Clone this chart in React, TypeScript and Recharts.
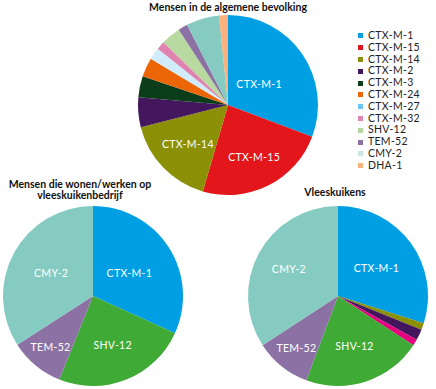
import { PieChart, Pie, Cell } from "recharts";

// categorieën en aandelen (%) per populatie
const legendNames = [
  "CTX-M-1",
  "CTX-M-15",
  "CTX-M-14",
  "CTX-M-2",
  "CTX-M-3",
  "CTX-M-24",
  "CTX-M-27",
  "CTX-M-32",
  "SHV-12",
  "TEM-52",
  "CMY-2",
  "DHA-1",
];
const legendColors = [
  "#009fe3",
  "#e3171b",
  "#8b9006",
  "#43165e",
  "#0b3d1b",
  "#ec6608",
  "#6ec6f0",
  "#e083b0",
  "#b3d79b",
  "#8c72a4",
  "#cbe8e3",
  "#f9b27e",
];

const algemeenNames = legendNames;
const algemeenValues = [30.7, 23.7, 16.5, 5.3, 3.8, 3.4, 2.2, 1.5, 3.5, 1.7, 5.9, 1.6];
const algemeenColors = [
  "#009fe3",
  "#e3171b",
  "#8b9006",
  "#43165e",
  "#0b3d1b",
  "#ec6608",
  "#d2ebfa",
  "#e083b0",
  "#b8d99f",
  "#8c72a4",
  "#86cbc2",
  "#f9b27e",
];

const bedrijfNames = ["CTX-M-1", "SHV-12", "TEM-52", "CMY-2"];
const bedrijfValues = [31.8, 24.3, 9.8, 34.1];
const bedrijfColors = ["#009fe3", "#3faa35", "#8c72a4", "#86cbc2"];

const kuikenNames = ["CTX-M-1", "CTX-M-14", "CTX-M-2", "CTX-M-32", "SHV-12", "TEM-52", "CMY-2"];
const kuikenValues = [29.9, 1.2, 2.0, 1.1, 21.5, 10.1, 34.2];
const kuikenColors = ["#009fe3", "#8b9006", "#43165e", "#e6007e", "#3faa35", "#8c72a4", "#86cbc2"];

// labelafstand t.o.v. middelpunt (fractie van straal); ontbreekt = geen label
type LabelPos = Record<string, number>;
const algemeenLabels: LabelPos = { "CTX-M-1": 0.42, "CTX-M-15": 0.65, "CTX-M-14": 0.62 };
const bedrijfLabels: LabelPos = { "CTX-M-1": 0.48, "SHV-12": 0.59, "TEM-52": 0.74, "CMY-2": 0.53 };
const kuikenLabels: LabelPos = { "CTX-M-1": 0.53, "SHV-12": 0.59, "TEM-52": 0.74, "CMY-2": 0.62 };

const FONT = "Lato, 'Open Sans', sans-serif";
const RAD = Math.PI / 180;

function toRows(names: string[], values: number[]) {
  return names.map((name, i) => ({ name, value: values[i] }));
}

function makeLabel(pos: LabelPos) {
  // eslint-disable-next-line @typescript-eslint/no-explicit-any
  return (props: any) => {
    const { cx, cy, midAngle, outerRadius, name } = props;
    const f = pos[name];
    if (!f) return null;
    const r = outerRadius * f;
    const x = cx + r * Math.cos(-midAngle * RAD);
    const y = cy + r * Math.sin(-midAngle * RAD);
    return (
      <text
        x={x}
        y={y}
        fill="#ffffff"
        fontSize={10.5}
        fontFamily={FONT}
        letterSpacing={0.3}
        textAnchor="middle"
        dominantBaseline="central"
      >
        {name}
      </text>
    );
  };
}

const titleStyle: React.CSSProperties = {
  position: "absolute",
  fontFamily: FONT,
  fontWeight: 700,
  fontSize: 10.5,
  color: "#111",
  textAlign: "center",
  lineHeight: "11px",
  whiteSpace: "nowrap",
};

export default function App() {
  return (
    <div style={{ position: "relative", width: 436, height: 389, background: "#fff" }}>
      <style>{`body{margin:0}`}</style>
      <PieChart width={436} height={389} margin={{ top: 0, right: 0, bottom: 0, left: 0 }}>
        <Pie
          data={toRows(algemeenNames, algemeenValues)}
          dataKey="value"
          nameKey="name"
          cx={228}
          cy={105}
          outerRadius={90}
          startAngle={90}
          endAngle={-270}
          stroke="none"
          label={makeLabel(algemeenLabels)}
          labelLine={false}
          isAnimationActive={false}
        >
          {algemeenColors.map((c, i) => (
            <Cell key={i} fill={c} />
          ))}
        </Pie>
        <Pie
          data={toRows(bedrijfNames, bedrijfValues)}
          dataKey="value"
          nameKey="name"
          cx={93}
          cy={296}
          outerRadius={90}
          startAngle={90}
          endAngle={-270}
          stroke="none"
          label={makeLabel(bedrijfLabels)}
          labelLine={false}
          isAnimationActive={false}
        >
          {bedrijfColors.map((c, i) => (
            <Cell key={i} fill={c} />
          ))}
        </Pie>
        <Pie
          data={toRows(kuikenNames, kuikenValues)}
          dataKey="value"
          nameKey="name"
          cx={338}
          cy={296}
          outerRadius={90}
          startAngle={90}
          endAngle={-270}
          stroke="none"
          label={makeLabel(kuikenLabels)}
          labelLine={false}
          isAnimationActive={false}
        >
          {kuikenColors.map((c, i) => (
            <Cell key={i} fill={c} />
          ))}
        </Pie>
      </PieChart>

      {/* titels */}
      <div style={{ ...titleStyle, left: 144, top: 2, width: 168 }}>Mensen in de algemene bevolking</div>
      <div style={{ ...titleStyle, left: 5, top: 179, width: 150 }}>
        Mensen die wonen/werken op
        <br />
        vleeskuikenbedrijf
      </div>
      <div style={{ ...titleStyle, left: 295, top: 187, width: 80 }}>Vleeskuikens</div>

      {/* legenda */}
      <div style={{ position: "absolute", left: 358, top: 30 }}>
        {legendNames.map((n, i) => (
          <div
            key={n}
            style={{
              display: "flex",
              alignItems: "center",
              height: 11.8,
              lineHeight: "11.8px",
              fontFamily: FONT,
              fontSize: 10.5,
              letterSpacing: 0.3,
              color: "#222",
            }}
          >
            <span
              style={{
                display: "inline-block",
                width: 5,
                height: 5,
                background: legendColors[i],
                marginRight: 5,
              }}
            />
            {n}
          </div>
        ))}
      </div>
    </div>
  );
}
